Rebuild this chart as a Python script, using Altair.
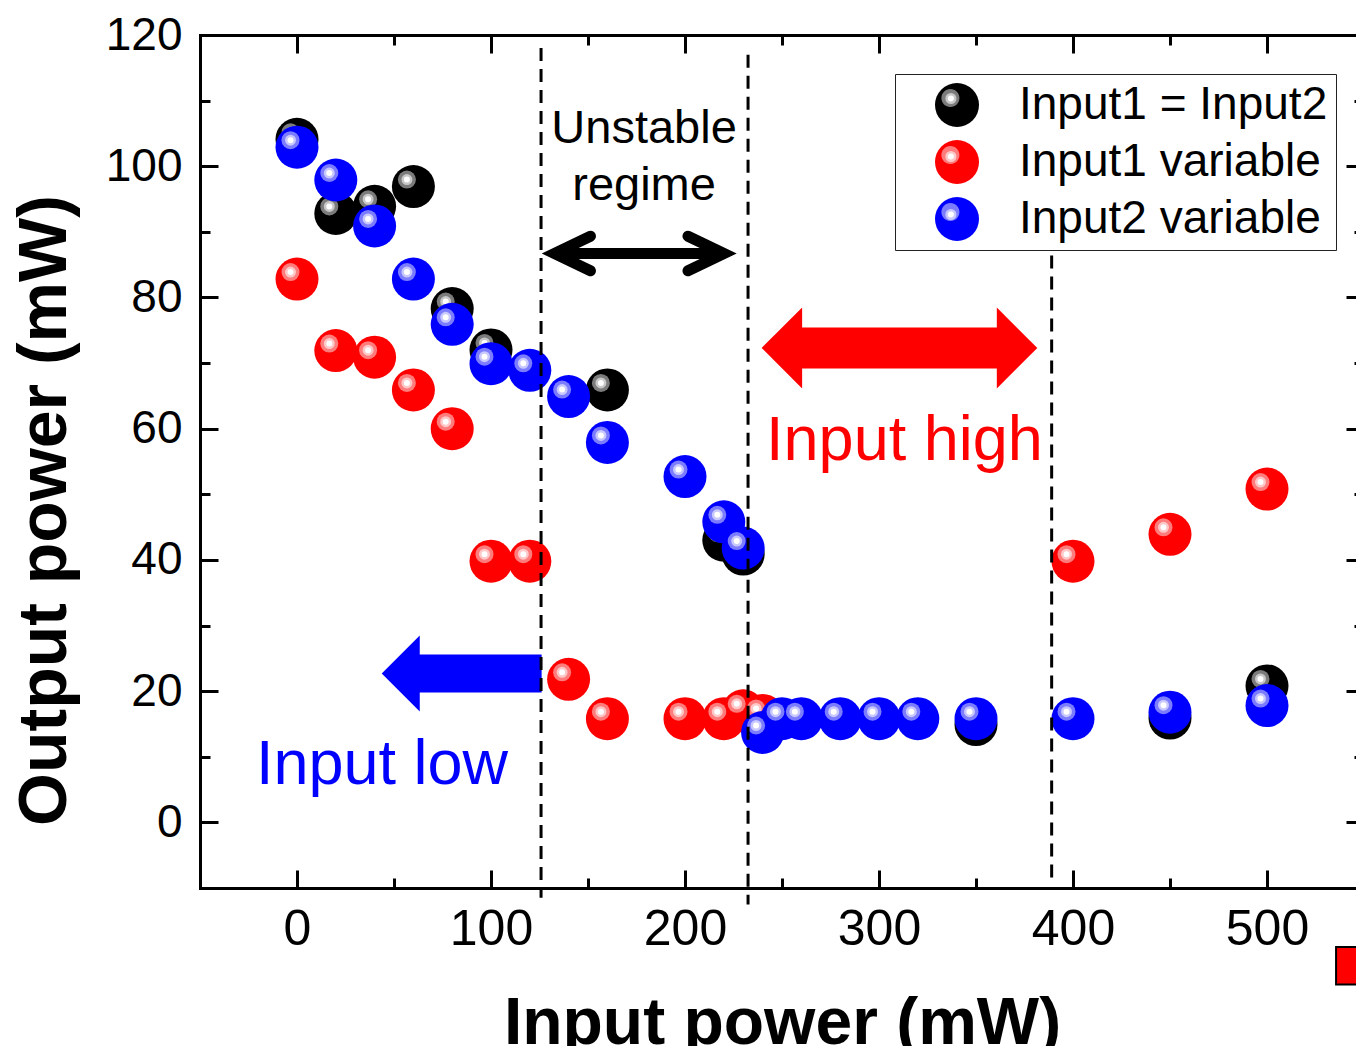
import altair as alt
import pandas as pd

FONT = "Liberation Sans, Arial, Helvetica, sans-serif"
W, H = 1164, 853

# ---------------- data ----------------
x_domain = [-50, 550]
y_domain = [-10, 120]
x_major = [0, 100, 200, 300, 400, 500]
x_minor = [-50, 50, 150, 250, 350, 450, 550]
y_major = [0, 20, 40, 60, 80, 100, 120]
y_minor = [-10, 10, 30, 50, 70, 90, 110]

series_names = ["Input1 = Input2", "Input1 variable", "Input2 variable"]
base_colors = ["#000000", "#ff0000", "#0000ff"]
ring1_colors = ["#7c7c7c", "#ff7c7c", "#7c7cff"]
ring2_colors = ["#c8c8c8", "#ffc8c8", "#c8c8ff"]

black_x = [0, 20, 40, 60, 80, 100, 160, 220, 230, 350, 450, 500]
black_y = [104.1, 92.8, 93.9, 96.9, 78.3, 72.0, 65.9, 43.0, 40.9, 14.9, 15.9, 20.8]

red_x = [0, 20, 40, 60, 80, 100, 120, 140, 160, 200, 220, 230, 240, 400, 450, 500]
red_y = [82.8, 71.9, 70.9, 65.9, 60.0, 39.8, 39.8, 21.8, 15.8, 15.8, 15.8, 17.0, 16.3, 39.8, 43.9, 50.8]

blue_x = [0, 20, 40, 60, 80, 100, 120, 140, 160, 200, 220, 230,
          240, 250, 260, 280, 300, 320, 350, 400, 450, 500]
blue_y = [102.9, 97.9, 90.9, 82.8, 75.9, 69.9, 68.9, 64.9, 57.9, 52.7, 45.8, 41.8,
          13.7, 15.8, 15.8, 15.8, 15.8, 15.8, 15.8, 15.8, 16.8, 17.8]

dash_x = [125.8, 232.5, 389.0]
dash_top = [118.0, 117.0, 86.4]
dash_bottom = [-11.5, -12.5, -8.5]

black_arrow_x = [132.7, 220.1]
black_arrow_y = [86.7, 86.7]
red_arrow_tips = [239.5, 381.6]
red_arrow_shaft = [259.5, 361.5]
red_arrow_y = [72.3, 72.3]
blue_arrow_tip = [43.7]
blue_arrow_shaft = [62.5, 126.1]
blue_arrow_y = [22.7]

unstable_lines = ["Unstable", "regime"]
unstable_x = [178.9, 178.9]
unstable_y = [103.6, 94.8]
high_label = ["Input high"]
high_x, high_y = [313.1], [55.2]
low_label = ["Input low"]
low_x, low_y = [43.8], [5.9]

frag_x, frag_x2 = [535.6], [570.0]
frag_y, frag_y2 = [-19.0], [-24.7]

# ---------------- tables ----------------
rows = []
for name, xs_, ys_ in zip(series_names, [black_x, red_x, blue_x], [black_y, red_y, blue_y]):
    for xv, yv in zip(xs_, ys_):
        rows.append({"series": name, "s1": name, "s2": name, "x": xv, "y": yv})
df = pd.DataFrame(rows)

dash_df = pd.DataFrame({"x": dash_x, "y": dash_top, "y2": dash_bottom})
black_shaft_df = pd.DataFrame({"x": [black_arrow_x[0]], "x2": [black_arrow_x[1]], "y": [black_arrow_y[0]]})
black_left_df = pd.DataFrame({"x": [black_arrow_x[0]], "y": [black_arrow_y[0]]})
black_right_df = pd.DataFrame({"x": [black_arrow_x[1]], "y": [black_arrow_y[1]]})
red_shaft_df = pd.DataFrame({"x": [red_arrow_shaft[0]], "x2": [red_arrow_shaft[1]], "y": [red_arrow_y[0]]})
red_left_df = pd.DataFrame({"x": [red_arrow_tips[0]], "y": [red_arrow_y[0]]})
red_right_df = pd.DataFrame({"x": [red_arrow_tips[1]], "y": [red_arrow_y[1]]})
blue_shaft_df = pd.DataFrame({"x": [blue_arrow_shaft[0]], "x2": [blue_arrow_shaft[1]], "y": blue_arrow_y})
blue_head_df = pd.DataFrame({"x": blue_arrow_tip, "y": blue_arrow_y})
unstable_df = pd.DataFrame({"x": unstable_x, "y": unstable_y, "t": unstable_lines})
high_df = pd.DataFrame({"x": high_x, "y": high_y, "t": high_label})
low_df = pd.DataFrame({"x": low_x, "y": low_y, "t": low_label})
frag_df = pd.DataFrame({"x": frag_x, "x2": frag_x2, "y": frag_y, "y2": frag_y2})

xs = alt.Scale(domain=x_domain, nice=False, zero=False)
ys = alt.Scale(domain=y_domain, nice=False, zero=False)


def X(axis=None, field="x"):
    return alt.X(f"{field}:Q", scale=xs, axis=axis)


def Y(axis=None, field="y"):
    return alt.Y(f"{field}:Q", scale=ys, axis=axis)


def circ(cx, cy, r):
    return (f"M{cx - r:.3f},{cy:.3f}A{r:.3f},{r:.3f},0,1,1,{cx + r:.3f},{cy:.3f}"
            f"A{r:.3f},{r:.3f},0,1,1,{cx - r:.3f},{cy:.3f}Z")


# ---------------- axes ----------------
x_main = alt.Axis(orient="bottom", values=x_major, ticks=False, domain=True, domainColor="black",
                  domainWidth=3, domainCap="square", labelFontSize=50, labelFont=FONT, labelColor="black",
                  labelPadding=16, labelFlush=False, grid=False, title="Input power (mW)",
                  titleFont=FONT, titleFontSize=66, titleFontWeight="bold", titleColor="black",
                  titleBaseline="alphabetic", titleY=155)
y_main = alt.Axis(orient="left", values=y_major, ticks=False, domain=True, domainColor="black",
                  domainWidth=3, domainCap="square", labelFontSize=46, labelFont=FONT, labelColor="black",
                  labelPadding=18, labelFlush=False, grid=False, title="Output power (mW)",
                  titleFont=FONT, titleFontSize=68, titleFontWeight="bold", titleColor="black",
                  titleBaseline="alphabetic", titleAngle=270, titleAlign="center", titleX=-135, titleY=475)


def tick_axis(orient, offset, values, size, domain=False):
    return alt.Axis(orient=orient, offset=offset, values=values, labels=False, domain=domain,
                    domainColor="black", domainWidth=3, domainCap="square", ticks=True,
                    tickSize=size, tickWidth=3, tickColor="black", grid=False, title=None)


def tick_layer(xa, ya):
    return alt.Chart(df).mark_point(opacity=0).encode(x=X(xa), y=Y(ya))


tick_layers = [
    tick_layer(tick_axis("top", -H, x_major, 18), tick_axis("right", -W, y_major, 18)),
    tick_layer(tick_axis("top", -H, x_minor, 10), tick_axis("right", -W, y_minor, 10)),
    tick_layer(tick_axis("bottom", -H, x_major, 18, domain=True), tick_axis("left", -W, y_major, 18)),
    tick_layer(tick_axis("bottom", -H, x_minor, 10), tick_axis("left", -W, y_minor, 10)),
]

# ---------------- legends ----------------
leg_common = dict(orient="none", legendX=695, legendY=39, title=None, labelFontSize=46,
                  labelFont=FONT, labelLimit=900, symbolSize=1936, rowPadding=11, padding=8,
                  symbolOffset=31, labelOffset=39, symbolOpacity=1)
leg_base = alt.Legend(**leg_common, symbolType="circle", symbolStrokeWidth=0, strokeColor="#222222",
                      fillColor="white", labelColor="black", zindex=1)
leg_r1 = alt.Legend(**leg_common, symbolType=circ(-0.3, -0.32, 0.41), symbolStrokeWidth=0,
                    labelOpacity=0, zindex=2)
leg_r2 = alt.Legend(**leg_common, symbolType=circ(-0.3, -0.32, 0.195), symbolStrokeWidth=2.5,
                    symbolFillColor="white", labelOpacity=0, zindex=3)

# ---------------- balls ----------------
ball_layers = []
for i, name in enumerate(series_names):
    sub = alt.Chart(df).transform_filter(alt.datum.series == name)
    xa = x_main if i == 0 else None
    ya = y_main if i == 0 else None
    ball_layers.append(sub.mark_circle(size=1849, opacity=1).encode(
        x=X(xa), y=Y(ya),
        fill=alt.Fill("series:N", scale=alt.Scale(range=base_colors), legend=leg_base)))
    ball_layers.append(sub.mark_circle(size=324, opacity=1, xOffset=-6.5, yOffset=-7).encode(
        x=X(), y=Y(),
        color=alt.Color("s1:N", scale=alt.Scale(range=ring1_colors), legend=leg_r1)))
    ball_layers.append(sub.mark_circle(size=72, opacity=1, xOffset=-6.5, yOffset=-7, fill="white",
                                       strokeWidth=2.5).encode(
        x=X(), y=Y(),
        stroke=alt.Stroke("s2:N", scale=alt.Scale(range=ring2_colors), legend=leg_r2)))

# ---------------- annotations ----------------
ann = [
    alt.Chart(black_shaft_df).mark_rule(color="black", strokeWidth=11).encode(
        x=X(), x2="x2:Q", y=Y()),
    alt.Chart(black_left_df).mark_point(shape="M1,-0.48L0,0L1,0.48", filled=False, size=5184,
                                        strokeWidth=11, color="black", opacity=1,
                                        strokeCap="round", strokeJoin="miter").encode(x=X(), y=Y()),
    alt.Chart(black_right_df).mark_point(shape="M-1,-0.48L0,0L-1,0.48", filled=False, size=5184,
                                         strokeWidth=11, color="black", opacity=1,
                                         strokeCap="round", strokeJoin="miter").encode(x=X(), y=Y()),
    alt.Chart(red_shaft_df).mark_rule(color="#ff0000", strokeWidth=41).encode(
        x=X(), x2="x2:Q", y=Y()),
    alt.Chart(red_left_df).mark_point(shape="M0,0L1,-1L1,1Z", filled=True, size=6561,
                                      color="#ff0000", opacity=1).encode(x=X(), y=Y()),
    alt.Chart(red_right_df).mark_point(shape="M0,0L-1,-1L-1,1Z", filled=True, size=6561,
                                       color="#ff0000", opacity=1).encode(x=X(), y=Y()),
    alt.Chart(blue_shaft_df).mark_rule(color="#0000ff", strokeWidth=38).encode(
        x=X(), x2="x2:Q", y=Y()),
    alt.Chart(blue_head_df).mark_point(shape="M0,0L1,-1L1,1Z", filled=True, size=5776,
                                       color="#0000ff", opacity=1).encode(x=X(), y=Y()),
    alt.Chart(unstable_df).mark_text(font=FONT, fontSize=47, color="black", align="center",
                                     baseline="alphabetic").encode(x=X(), y=Y(), text="t:N"),
    alt.Chart(high_df).mark_text(font=FONT, fontSize=63, color="#ff0000", align="center",
                                 baseline="alphabetic").encode(x=X(), y=Y(), text="t:N"),
    alt.Chart(low_df).mark_text(font=FONT, fontSize=63, color="#0000ff", align="center",
                                baseline="alphabetic").encode(x=X(), y=Y(), text="t:N"),
    alt.Chart(dash_df).mark_rule(color="black", strokeWidth=3, strokeDash=[13, 8]).encode(
        x=X(), y=Y(), y2="y2:Q"),
    alt.Chart(frag_df).mark_rect(color="#ff0000", stroke="black", strokeWidth=2).encode(
        x=X(), x2="x2:Q", y=Y(), y2="y2:Q"),
]

chart = alt.layer(*tick_layers, *ball_layers, *ann).resolve_axis(
    x="independent", y="independent"
).properties(
    width=W, height=H,
    autosize=alt.AutoSizeParams(type="none"),
    padding={"left": 192, "top": 27, "right": -8, "bottom": 158},
    background="white",
).configure_view(stroke="transparent")

chart.save("out.html", embed_options={"renderer": "svg", "actions": False})
